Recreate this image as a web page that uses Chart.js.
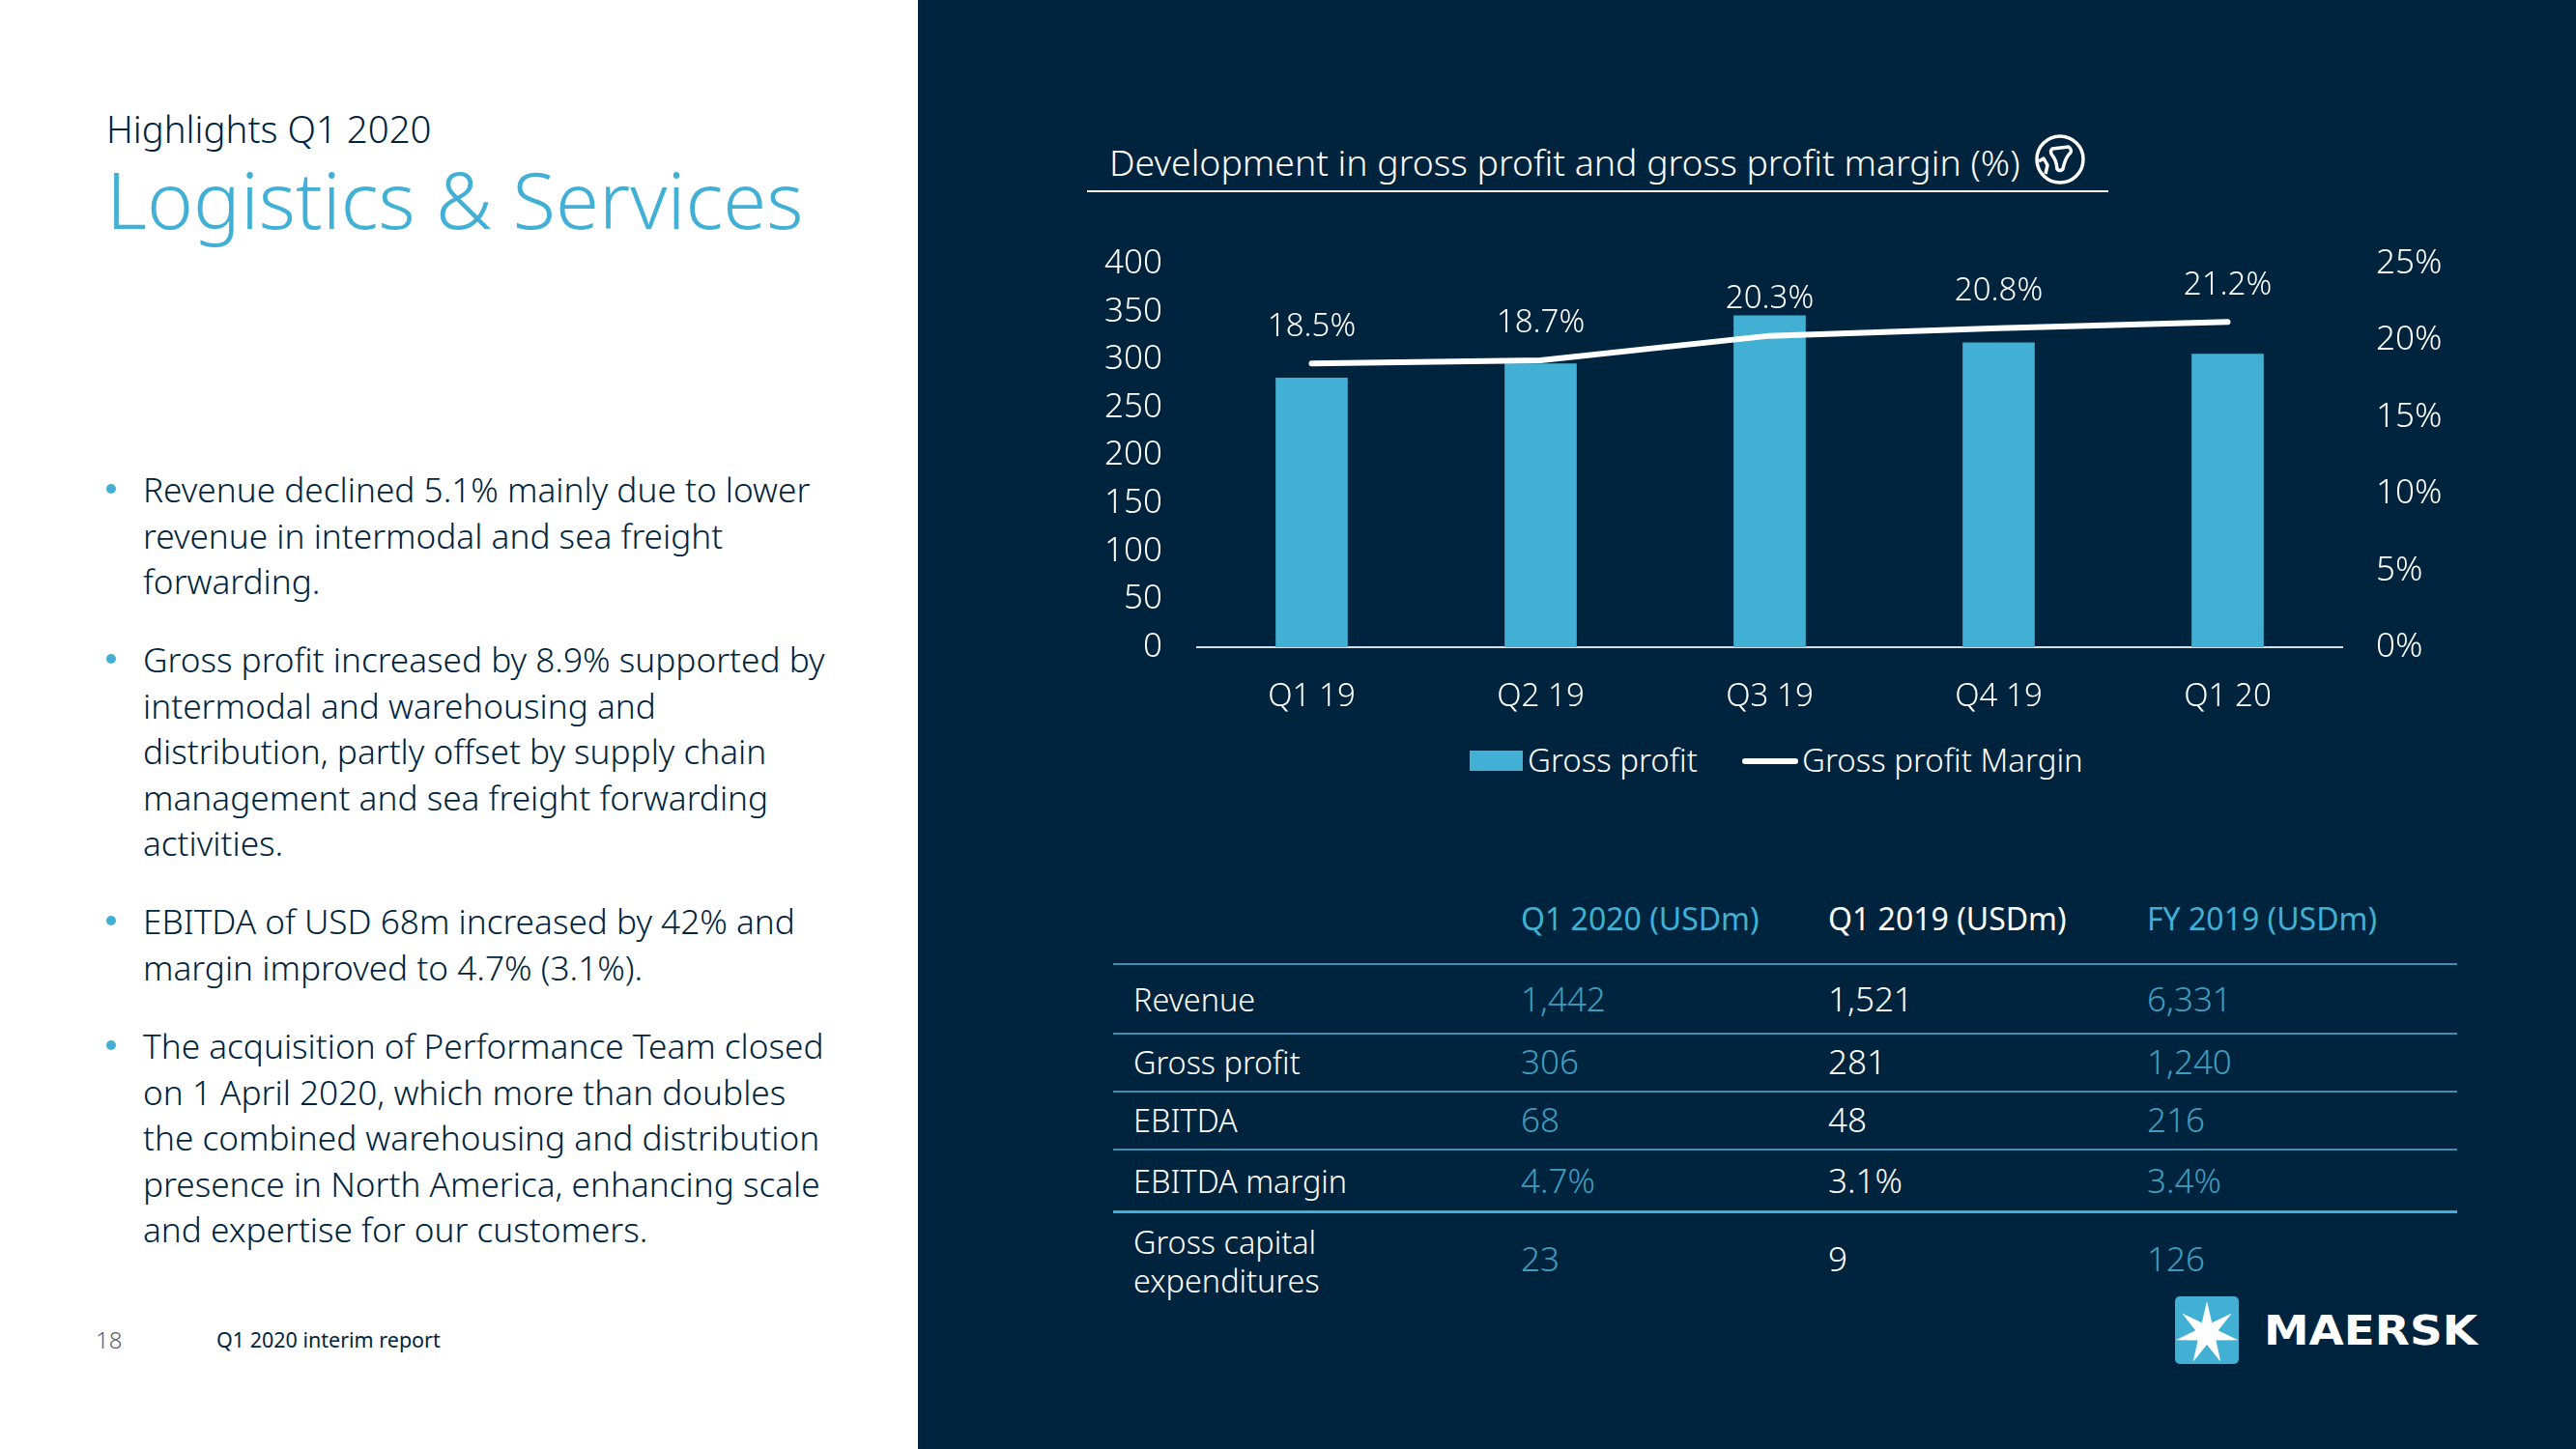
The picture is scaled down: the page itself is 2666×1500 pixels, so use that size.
<!DOCTYPE html>
<html>
<head>
<meta charset="utf-8">
<title>Logistics & Services</title>
<script src="https://cdn.jsdelivr.net/npm/chart.js@4"></script>
<style>
  html, body { margin: 0; padding: 0; background: #fff; }
  body { width: 2666px; height: 1500px; position: relative; overflow: hidden; font-family: "Noto Sans", sans-serif; font-weight: 300; color: #00243d; }
  .abs { position: absolute; white-space: nowrap; }
  #panel { position: absolute; left: 950px; top: 0; width: 1716px; height: 1500px; background: #00243d; }
  #subtitle { left: 110px; top: 111px; font-size: 38.4px; line-height: 44px; }
  #heading { left: 110px; top: 160px; font-size: 81.5px; line-height: 92px; color: #42b0d5; }
  .para { position: absolute; left: 148px; font-size: 35.2px; line-height: 47.6px; white-space: nowrap; }
  .para::before { content: ""; position: absolute; left: -38px; top: 18px; width: 10px; height: 10px; border-radius: 50%; background: #42b0d5; }
  #pageno { left: 99px; top: 1372px; font-size: 24px; line-height: 30px; color: #55606a; }
  #report { left: 224px; top: 1372px; font-size: 21.5px; line-height: 30px; font-weight: 400; }
  #chartTitle { left: 1148px; top: 143px; font-size: 37.4px; line-height: 50px; color: #fff; }
  #titleRule { position: absolute; left: 1125px; top: 197px; width: 1057px; height: 2px; background: #fff; }
  #chart { position: absolute; left: 1100px; top: 224px; }
  .lg { position: absolute; color: #fff; font-size: 33px; line-height: 44px; white-space: nowrap; }
  .rule { position: absolute; left: 1152px; width: 1391px; height: 2px; background: #3f8fb0; }
  .cell { position: absolute; font-size: 35px; line-height: 40px; white-space: nowrap; color: #fff; }
  .name { font-size: 32.4px; }
  .hd { font-weight: 400; font-size: 32px; }
  .blue { color: #42b0d5; }
  .dim { color: #3f9cc0; }
</style>
</head>
<body>
<div id="panel"></div>

<div class="abs" id="subtitle">Highlights Q1 2020</div>
<div class="abs" id="heading">Logistics &amp; Services</div>

<div class="para" style="top:483px">Revenue declined 5.1% mainly due to lower<br>revenue in intermodal and sea freight<br>forwarding.</div>
<div class="para" style="top:659px">Gross profit increased by 8.9% supported by<br>intermodal and warehousing and<br>distribution, partly offset by supply chain<br>management and sea freight forwarding<br>activities.</div>
<div class="para" style="top:930px">EBITDA of USD 68m increased by 42% and<br>margin improved to 4.7% (3.1%).</div>
<div class="para" style="top:1059px">The acquisition of Performance Team closed<br>on 1 April 2020, which more than doubles<br>the combined warehousing and distribution<br>presence in North America, enhancing scale<br>and expertise for our customers.</div>

<div class="abs" id="pageno">18</div>
<div class="abs" id="report">Q1 2020 interim report</div>

<div class="abs" id="chartTitle">Development in gross profit and gross profit margin (%)</div>
<div id="titleRule"></div>
<svg class="abs" style="left:2104px;top:137px" width="56" height="56" viewBox="0 0 56 56" fill="none" stroke="#fff" stroke-width="3.5" stroke-linejoin="round">
  <circle cx="28" cy="28" r="24"/>
  <path d="M20 17 L37 15 Q42 19 37 23 Q33 28 31 38 Q27 41 25 38 Q24 28 20 24 Q17 20 20 17 Z"/>
  <path d="M6 30 L11 27 L15 34 L13 43"/>
</svg>

<canvas id="chart" width="1500" height="526"></canvas>

<div id="legend"></div>
<div id="table"></div>

<svg class="abs" style="left:2251px;top:1342px" width="66" height="70" viewBox="0 0 66 70">
  <rect width="66" height="70" rx="5" fill="#42b0d5"/>
  <polygon id="star" fill="#fff"/>
</svg>
<svg class="abs" style="left:2330px;top:1340px" width="300" height="70">
  <text x="13" y="52" font-family="DejaVu Sans" font-weight="700" font-size="42.5" fill="#fff" textLength="221" lengthAdjust="spacingAndGlyphs">MAERSK</text>
</svg>

<script>
const quarters = ["Q1 19", "Q2 19", "Q3 19", "Q4 19", "Q1 20"];
const grossProfit = [281, 296, 346, 318, 306];
const grossMargin = [18.5, 18.7, 20.3, 20.8, 21.2];

const tableHeaders = ["Q1 2020 (USDm)", "Q1 2019 (USDm)", "FY 2019 (USDm)"];
const tableRows = ["Revenue", "Gross profit", "EBITDA", "EBITDA margin", "Gross capital<br>expenditures"];
const q12020 = ["1,442", "306", "68", "4.7%", "23"];
const q12019 = ["1,521", "281", "48", "3.1%", "9"];
const fy2019 = ["6,331", "1,240", "216", "3.4%", "126"];

const FONT = "'Noto Sans', sans-serif";
const BLUE = "#42b0d5";

// labels above the margin line
const marginLabels = {
  id: "marginLabels",
  afterDatasetsDraw(chart) {
    const ctx = chart.ctx;
    const meta = chart.getDatasetMeta(1);
    ctx.save();
    ctx.font = "300 33px " + FONT;
    ctx.fillStyle = "#fff";
    ctx.textAlign = "center";
    ctx.textBaseline = "middle";
    meta.data.forEach(function (pt, i) {
      ctx.fillText(grossMargin[i].toFixed(1) + "%", pt.x, pt.y - 38);
    });
    ctx.restore();
  },
};

const tickFont = { family: FONT, size: 35, weight: "300" };
const xFont = { family: FONT, size: 33, weight: "300" };

const myChart = new Chart(document.getElementById("chart"), {
  type: "bar",
  data: {
    labels: quarters,
    datasets: [
      {
        label: "Gross profit",
        data: grossProfit,
        backgroundColor: BLUE,
        barPercentage: 0.315,
        categoryPercentage: 1,
        yAxisID: "y",
        order: 2,
      },
      {
        type: "line",
        label: "Gross profit Margin",
        data: grossMargin,
        borderColor: "#fff",
        borderWidth: 6,
        borderCapStyle: "round",
        borderJoinStyle: "round",
        pointRadius: 0,
        tension: 0,
        yAxisID: "y2",
        order: 1,
      },
    ],
  },
  options: {
    responsive: false,
    animation: false,
    layout: { padding: { top: 20 } },
    plugins: {
      legend: { display: false },
      title: { display: false },
      tooltip: { enabled: false },
    },
    scales: {
      x: {
        grid: { display: false },
        border: { color: "#d5e0e6", width: 2 },
        ticks: { color: "#fff", font: xFont, padding: 24 },
        afterFit(scale) { scale.height = 80; },
      },
      y: {
        min: 0,
        max: 400,
        position: "left",
        grid: { display: false },
        border: { display: false },
        ticks: { stepSize: 50, color: "#fff", font: tickFont, padding: 28 },
        afterFit(scale) { scale.width = 139; },
      },
      y2: {
        min: 0,
        max: 25,
        position: "right",
        grid: { display: false },
        border: { display: false },
        ticks: {
          stepSize: 5,
          color: "#fff",
          font: tickFont,
          padding: 27,
          callback: (v) => v + "%",
        },
        afterFit(scale) { scale.width = 176; },
      },
    },
  },
  plugins: [marginLabels],
});

// legend
document.getElementById("legend").innerHTML =
  '<div style="position:absolute;left:1521px;top:777px;width:55px;height:21px;background:' + BLUE + '"></div>' +
  '<div class="lg" style="left:1581px;top:765px">Gross profit</div>' +
  '<div style="position:absolute;left:1803px;top:785px;width:58px;height:6px;border-radius:3px;background:#fff"></div>' +
  '<div class="lg" style="left:1865px;top:765px">Gross profit Margin</div>';

// table
const colX = [1574, 1892, 2222];
const colClass = ["dim", "", "dim"];
const headClass = ["blue", "", "blue"];
const rowY = [1035, 1100, 1160, 1223, 1304];
const ruleY = [997, 1069, 1129, 1189];
let html = "";
ruleY.forEach((y) => { html += '<div class="rule" style="top:' + y + 'px"></div>'; });
html += '<div class="rule" style="top:1253px;height:3px;background:#42b0d5"></div>';
tableHeaders.forEach((h, i) => {
  html += '<div class="cell hd ' + headClass[i] + '" style="left:' + colX[i] + 'px;top:931px">' + h + "</div>";
});
tableRows.forEach((r, i) => {
  if (i === 4) {
    html += '<div class="cell name" style="left:1173px;top:1265px">' + r + "</div>";
  } else {
    html += '<div class="cell name" style="left:1173px;top:' + (rowY[i] - 21) + 'px">' + r + "</div>";
  }
  [q12020, q12019, fy2019].forEach((col, c) => {
    html += '<div class="cell ' + colClass[c] + '" style="left:' + colX[c] + 'px;top:' + (rowY[i] - 21) + 'px">' + col[i] + "</div>";
  });
});
document.getElementById("table").innerHTML = html;

// seven pointed star of the logo
let pts = [];
for (let i = 0; i < 14; i++) {
  const r = i % 2 ? 12 : 33;
  const a = -Math.PI / 2 + (i * Math.PI) / 7;
  pts.push((33 + r * Math.cos(a)).toFixed(1) + "," + (38 + r * Math.sin(a)).toFixed(1));
}
document.getElementById("star").setAttribute("points", pts.join(" "));
</script>
</body>
</html>
